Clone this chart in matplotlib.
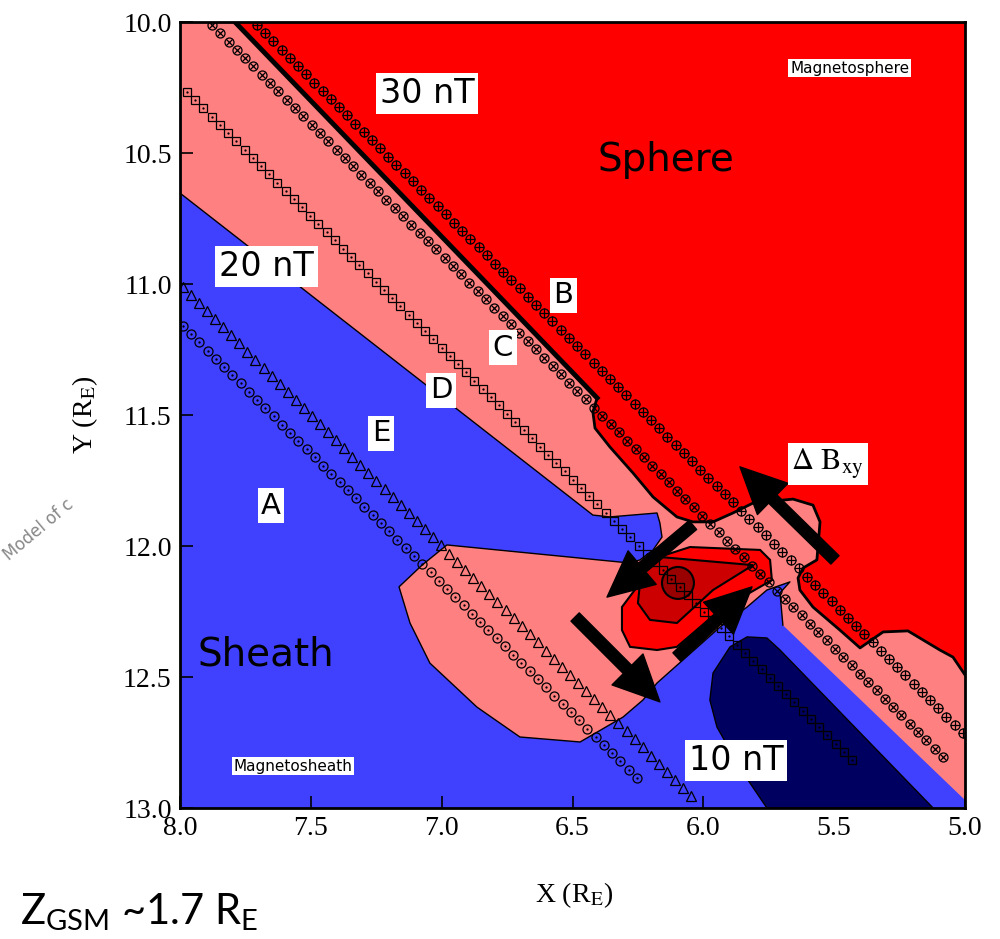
import numpy as np
import matplotlib
matplotlib.use('Agg')
import matplotlib.pyplot as plt
from matplotlib.patches import Polygon, Circle, FancyArrowPatch

plt.rcParams['mathtext.fontset'] = 'custom'
plt.rcParams['mathtext.rm'] = 'Lato'
plt.rcParams['mathtext.it'] = 'Lato:italic'
plt.rcParams['mathtext.bf'] = 'Lato:bold'

# ---------------- data (X, Y in R_E) ----------------
x_ticks = [8.0, 7.5, 7.0, 6.5, 6.0, 5.5, 5.0]
y_ticks = [10.0, 10.5, 11.0, 11.5, 12.0, 12.5, 13.0]

# 20-30 nT region (salmon)
salmon_x = [8.000, 5.000, 5.000, 5.008, 5.696, 5.707, 5.669, 5.757, 5.833, 5.936,
            6.177, 6.231, 6.307, 6.471, 6.701, 6.865, 7.045, 7.121, 7.163, 7.075,
            6.980, 6.280, 6.242, 6.192, 6.158, 6.166, 6.177, 6.357, 6.422, 8.000]
salmon_y = [10.000, 10.000, 12.969, 12.962, 12.302, 12.179, 12.137, 12.168, 12.233, 12.309,
            12.523, 12.588, 12.653, 12.748, 12.729, 12.615, 12.447, 12.294, 12.156, 12.073,
            11.996, 12.065, 12.053, 12.015, 11.966, 11.912, 11.874, 11.889, 11.882, 10.653]

# > 30 nT region (magnetosphere, red)
red_x = [7.790, 6.406, 6.422, 6.414, 6.357, 6.269, 6.192, 6.101, 6.040, 5.963,
         5.887, 5.810, 5.657, 5.581, 5.554, 5.566, 5.619, 5.638, 5.631, 5.581,
         5.478, 5.401, 5.313, 5.218, 5.096, 5.046, 5.000, 5.000]
red_y = [10.000, 11.435, 11.489, 11.550, 11.622, 11.721, 11.813, 11.889, 11.908, 11.908,
         11.874, 11.836, 11.821, 11.844, 11.908, 12.053, 12.084, 12.122, 12.168, 12.233,
         12.321, 12.389, 12.328, 12.324, 12.397, 12.424, 12.492, 10.000]

# < 10 nT region (navy)
navy_x = [5.833, 5.757, 5.707, 5.122, 5.757, 5.848, 5.948, 5.975, 5.963, 5.898]
navy_y = [12.347, 12.351, 12.397, 13.000, 13.000, 12.866, 12.691, 12.588, 12.485, 12.385]

# central enhancement contours
blob1_x = [6.204, 6.051, 5.783, 5.745, 5.738, 5.783, 5.936, 6.101, 6.177, 6.280, 6.311, 6.311, 6.242]
blob1_y = [12.053, 12.004, 12.015, 12.053, 12.130, 12.156, 12.244, 12.385, 12.397, 12.385, 12.321, 12.233, 12.141]
blob2_x = [6.166, 5.810, 5.963, 6.101, 6.204, 6.250, 6.242, 6.215]
blob2_y = [12.042, 12.073, 12.168, 12.294, 12.282, 12.218, 12.141, 12.065]
core_center = (6.097, 12.141)
core_radius = 0.061

# Delta B_xy arrows: (tail X, tail Y, tip X, tip Y)
arrows = [(5.497, 12.053, 5.860, 11.698),
          (6.040, 11.920, 6.368, 12.195),
          (6.101, 12.424, 5.814, 12.156),
          (6.490, 12.271, 6.166, 12.595)]

# spacecraft tracks: start (X, Y), end (X, Y), number of samples
track_B = dict(start=(7.706, 10.011), end=(5.008, 12.714), n=87)   # circled plus
track_C = dict(start=(7.878, 10.011), end=(5.084, 12.805), n=89)   # circled cross
track_D = dict(start=(7.973, 10.267), end=(5.432, 12.817), n=82)   # squares
track_E = dict(start=(7.989, 11.011), end=(6.047, 12.954), n=64)   # triangles
track_A = dict(start=(7.989, 11.160), end=(6.254, 12.885), n=56)   # circles

# colours
c_blue = '#4040ff'
c_salmon = '#ff8080'
c_red = '#ff0000'
c_navy = '#000060'
c_dred = '#cc0000'
c_ddred = '#990000'

# ---------------- figure ----------------
fig = plt.figure(figsize=(10, 9.39), dpi=100)
ax = fig.add_axes([0.18, 1 - 808 / 939, 0.785, (808 - 22) / 939])
ax.set_facecolor(c_blue)
ax.set_xlim(8.0, 5.0)
ax.set_ylim(13.0, 10.0)

ax.add_patch(Polygon(np.column_stack([salmon_x, salmon_y]), closed=True,
                     fc=c_salmon, ec='none', zorder=1))
ax.plot(salmon_x[4:30], salmon_y[4:30], color='black', lw=1.0, zorder=1.5)

ax.add_patch(Polygon(np.column_stack([navy_x, navy_y]), closed=True,
                     fc=c_navy, ec='black', lw=1.0, zorder=2))

ax.add_patch(Polygon(np.column_stack([red_x, red_y]), closed=True,
                     fc=c_red, ec='none', zorder=3))
ax.plot(red_x[:27], red_y[:27], color='black', lw=2.0, zorder=3.5)
ax.plot(red_x[:2], red_y[:2], color='black', lw=3.5, zorder=3.5)

ax.add_patch(Polygon(np.column_stack([blob1_x, blob1_y]), closed=True,
                     fc=c_red, ec='black', lw=1.5, zorder=4))
ax.add_patch(Polygon(np.column_stack([blob2_x, blob2_y]), closed=True,
                     fc=c_dred, ec='black', lw=1.5, zorder=4.1))
ax.add_patch(Circle(core_center, core_radius, fc=c_ddred, ec='black', lw=1.5, zorder=4.2))


def track(t):
    xs = np.linspace(t['start'][0], t['end'][0], t['n'])
    ys = np.linspace(t['start'][1], t['end'][1], t['n'])
    return xs, ys


kw = dict(ls='none', mec='black', mew=0.9, zorder=5)
xs, ys = track(track_B)
ax.plot(xs, ys, marker='o', ms=6.5, mfc='none', **kw)
ax.plot(xs, ys, marker='+', ms=6.5, **kw)
xs, ys = track(track_C)
ax.plot(xs, ys, marker='o', ms=6.5, mfc='none', **kw)
ax.plot(xs, ys, marker='x', ms=4.6, **kw)
xs, ys = track(track_D)
ax.plot(xs, ys, marker='s', ms=5.5, mfc='none', **kw)
ax.plot(xs, ys, marker='.', ms=1.5, **kw)
xs, ys = track(track_E)
ax.plot(xs, ys, marker='^', ms=6.5, mfc='none', **kw)
xs, ys = track(track_A)
ax.plot(xs, ys, marker='o', ms=6.5, mfc='none', **kw)
ax.plot(xs, ys, marker='.', ms=1.5, **kw)

for (x0, y0, x1, y1) in arrows:
    ax.add_patch(FancyArrowPatch((x0, y0), (x1, y1),
                                 arrowstyle='simple,head_length=1.1,head_width=1.05,tail_width=0.28',
                                 mutation_scale=30, color='black', shrinkA=0, shrinkB=0,
                                 zorder=6))

# ---------------- labels ----------------
box = dict(boxstyle='square,pad=0.12', fc='white', ec='none')
lab = dict(ha='center', va='center', family='DejaVu Sans', zorder=7, bbox=box)
ax.text(7.056, 10.271, '30 nT', fontsize=24, **lab)
ax.text(7.668, 10.935, '20 nT', fontsize=24, **lab)
ax.text(5.875, 12.817, '10 nT', fontsize=24, **lab)
ax.text(6.536, 11.042, 'B', fontsize=21, **lab)
ax.text(6.766, 11.244, 'C', fontsize=21, **lab)
ax.text(7.003, 11.405, 'D', fontsize=21, **lab)
ax.text(7.232, 11.569, 'E', fontsize=21, **lab)
ax.text(7.652, 11.847, 'A', fontsize=21, **lab)
ax.text(5.440, 10.176, 'Magnetosphere', fontsize=11, **lab)
ax.text(7.568, 12.840, 'Magnetosheath', fontsize=11, **lab)
ax.text(5.524, 11.687, r'$\Delta\ \mathrm{B}_{\mathrm{xy}}$', fontsize=22,
        math_fontfamily='stix', **lab)
ax.text(6.406, 10.569, 'Sphere', fontsize=28, ha='left', va='baseline',
        family='DejaVu Sans', color='black', zorder=7)
ax.text(7.935, 12.458, 'Sheath', fontsize=28, ha='left', va='baseline',
        family='DejaVu Sans', color='black', zorder=7)

# ---------------- axes styling ----------------
ax.set_xticks(x_ticks)
ax.set_yticks(y_ticks)
ax.set_xticklabels([f'{v:.1f}' for v in x_ticks], family='Liberation Serif')
ax.set_yticklabels([f'{v:.1f}' for v in y_ticks], family='Liberation Serif')
ax.tick_params(direction='in', length=9, width=1.2, labelsize=20, pad=6,
               top=False, right=False)
for s in ax.spines.values():
    s.set_linewidth(2.0)
    s.set_zorder(8)

fig.text(0.574, 1 - 895 / 939, r'X (R$_{\mathrm{E}}$)', ha='center', va='center',
         fontsize=20, family='Liberation Serif', math_fontfamily='stix')
fig.text(0.085, 1 - 415 / 939, r'Y (R$_{\mathrm{E}}$)', ha='center', va='center',
         rotation=90, fontsize=20, family='Liberation Serif', math_fontfamily='stix')
fig.text(0.02, 1 - 924 / 939, r'Z$_{\mathrm{GSM}}$ ~1.7 R$_{\mathrm{E}}$', ha='left',
         va='baseline', fontsize=30, family='Lato', math_fontfamily='custom')
fig.text(0.0, 1 - 560 / 939, 'Model of c', ha='left', va='baseline', rotation=40,
         fontsize=12, color='#888888', family='DejaVu Sans')

fig.savefig('out.png', dpi=100)
